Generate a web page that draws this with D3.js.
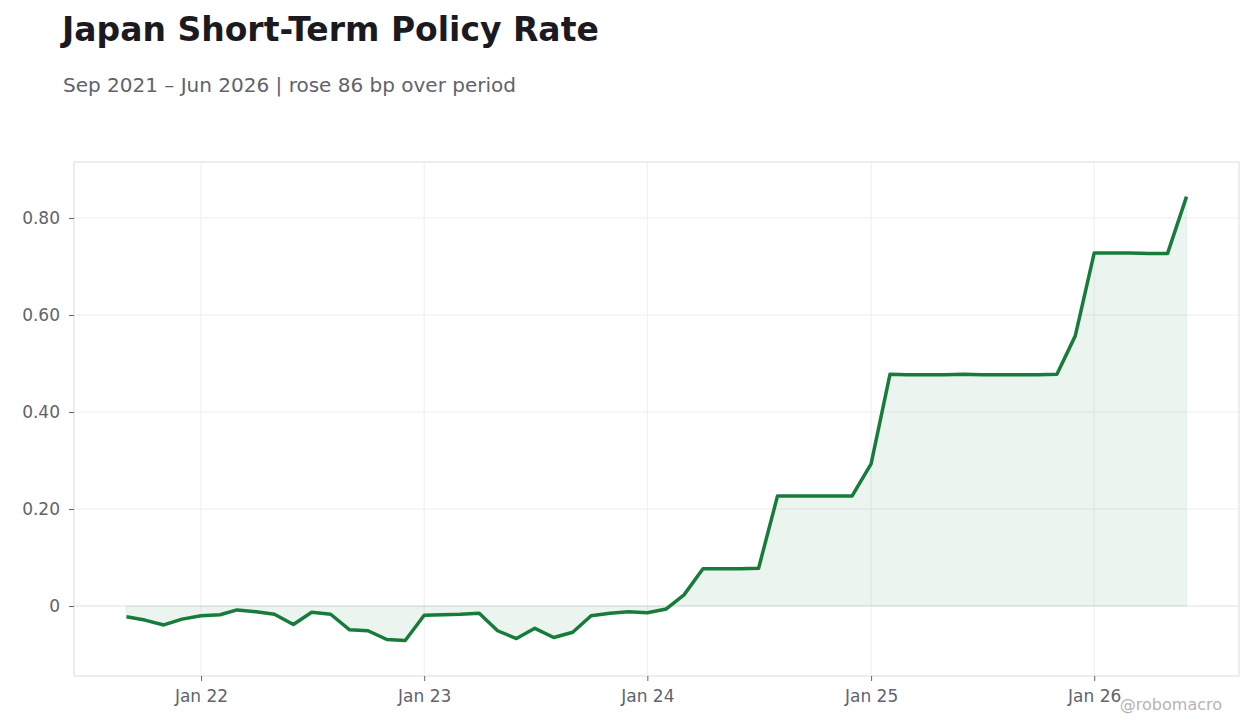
<!DOCTYPE html>
<html>
<head>
<meta charset="utf-8">
<script src="https://cdn.jsdelivr.net/npm/d3@7"></script>
<style>
  body { margin: 0; background: #fff; }
  svg { font-family: "DejaVu Sans", sans-serif; }
</style>
</head>
<body>
<script>
var w = 1260, h = 728,
    margin = { top: 162, right: 21, bottom: 52, left: 74 },
    iw = w - margin.left - margin.right,
    ih = h - margin.top - margin.bottom

// monthly observations, Sep 2021 .. Jun 2026
var startMonth = "2021-09"
var rates = [
  -0.022, -0.029, -0.039, -0.027,
  -0.020, -0.018, -0.008, -0.012, -0.017, -0.038, -0.013, -0.017, -0.049, -0.051, -0.069, -0.071,
  -0.019, -0.018, -0.017, -0.015, -0.051, -0.067, -0.046, -0.065, -0.054, -0.020, -0.015, -0.012,
  -0.014, -0.006, 0.023, 0.077, 0.077, 0.077, 0.078, 0.227, 0.227, 0.227, 0.227, 0.227,
  0.293, 0.478, 0.477, 0.477, 0.477, 0.478, 0.477, 0.477, 0.477, 0.477, 0.478, 0.557,
  0.728, 0.728, 0.728, 0.727, 0.727, 0.844
]
var yTicks = [0, 0.2, 0.4, 0.6, 0.8]
var title = "Japan Short-Term Policy Rate"
var subtitle = "Sep 2021 \u2013 Jun 2026 | rose 86 bp over period"

var parseMonth = d3.timeParse("%Y-%m")
var t0 = parseMonth(startMonth)
var data = rates.map(function (v, i) { return { date: d3.timeMonth.offset(t0, i), value: v } })

var svg = d3.select("body").append("svg")
    .attr("width", w)
    .attr("height", h)

svg.append("text")
    .attr("x", 62).attr("y", 41)
    .attr("font-size", 33).attr("font-weight", "bold")
    .attr("fill", "#1b1b1f")
    .text(title)

svg.append("text")
    .attr("x", 63).attr("y", 92)
    .attr("font-size", 20)
    .attr("fill", "#5f636d")
    .text(subtitle)

var ext = d3.extent(data, function (d) { return d.date })
var pad = (ext[1] - ext[0]) * 0.0495
var x = d3.scaleTime()
    .domain([new Date(+ext[0] - pad), new Date(+ext[1] + pad)])
    .range([0, iw])

var y = d3.scaleLinear()
    .domain([-0.1443, 0.9155])
    .range([ih, 0])

var g = svg.append("g").attr("transform", "translate(" + margin.left + "," + margin.top + ")")

// grid
var xTicks = x.ticks(d3.timeYear.every(1))
g.selectAll(".vgrid").data(xTicks).enter().append("line")
    .attr("x1", function (d) { return x(d) }).attr("x2", function (d) { return x(d) })
    .attr("y1", 0).attr("y2", ih)
    .attr("stroke", "#eeeef0").attr("stroke-width", 1)
g.selectAll(".hgrid").data(yTicks).enter().append("line")
    .attr("x1", 0).attr("x2", iw)
    .attr("y1", function (d) { return y(d) }).attr("y2", function (d) { return y(d) })
    .attr("stroke", function (d) { return d === 0 ? "#dfe3e0" : "#eeeef0" }).attr("stroke-width", 1)

// area + line
var area = d3.area()
    .x(function (d) { return x(d.date) })
    .y0(y(0))
    .y1(function (d) { return y(d.value) })
g.append("path").datum(data)
    .attr("d", area)
    .attr("fill", "#1a7f3c").attr("fill-opacity", 0.085)
    .attr("stroke", "#1a7f3c").attr("stroke-opacity", 0.08)

var line = d3.line()
    .x(function (d) { return x(d.date) })
    .y(function (d) { return y(d.value) })
g.append("path").datum(data)
    .attr("d", line)
    .attr("fill", "none")
    .attr("stroke", "#177c3b").attr("stroke-width", 3.5)
    .attr("stroke-linejoin", "round")

// frame
g.append("rect")
    .attr("x", 0).attr("y", 0).attr("width", iw).attr("height", ih)
    .attr("fill", "none").attr("stroke", "#dcdce0")

// axes
var xAxis = g.append("g").attr("transform", "translate(0," + ih + ")")
    .call(d3.axisBottom(x).tickValues(xTicks).tickFormat(d3.timeFormat("%b %y")).tickSize(5).tickPadding(9))
var yAxis = g.append("g")
    .call(d3.axisLeft(y).tickValues(yTicks).tickFormat(function (d) { return d === 0 ? "0" : d3.format(".2f")(d) }).tickSize(5).tickPadding(9))

;[xAxis, yAxis].forEach(function (a) {
    a.select(".domain").remove()
    a.selectAll(".tick line").attr("stroke", "#5f636d")
    a.selectAll(".tick text").attr("fill", "#5f636d").attr("font-size", 17).attr("font-family", "DejaVu Sans, sans-serif")
})

svg.append("text")
    .attr("x", 1222).attr("y", 710)
    .attr("text-anchor", "end")
    .attr("font-size", 16)
    .attr("fill", "#b4b4b8")
    .text("@robomacro")
</script>
</body>
</html>
